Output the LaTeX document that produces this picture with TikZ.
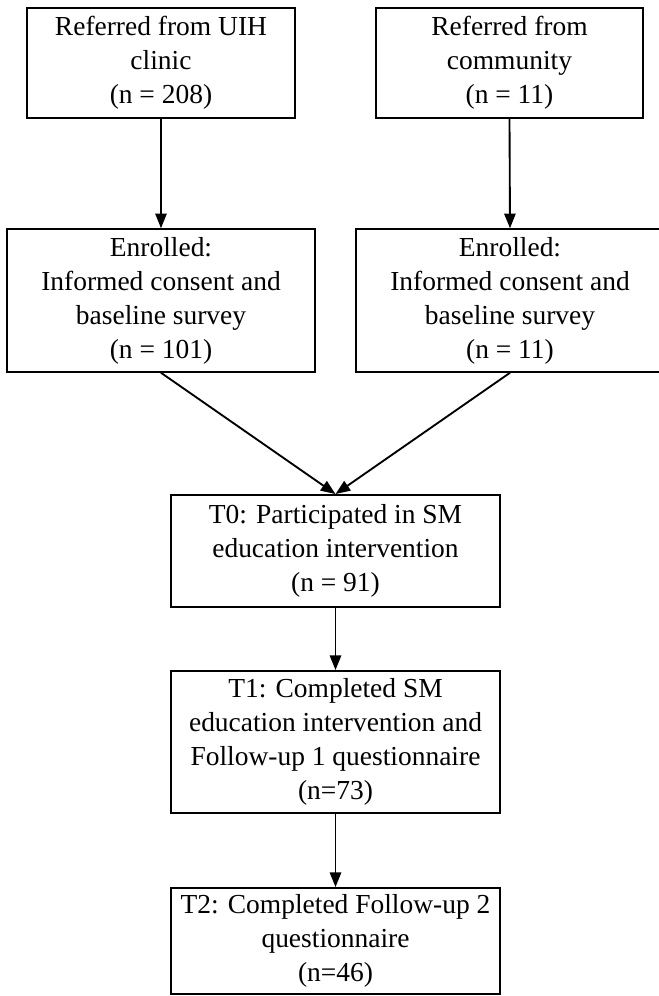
\documentclass[tikz,border=0pt]{standalone}
\usepackage{fontspec}
\setmainfont{Liberation Serif}
\usetikzlibrary{arrows.meta}
\begin{document}
\begin{tikzpicture}[x=0.75pt,y=-0.75pt,
  box/.style={draw,line width=1.4pt,rectangle,inner sep=0pt,align=center,
    font=\fontsize{20.6}{25.5}\selectfont},
  arr/.style={line width=1.4pt,-{Triangle[length=11pt,width=8.5pt]}}]
\useasboundingbox (0,0) rectangle (659,996);
\node[box,minimum width=201pt,minimum height=82.5pt] (b1) at (161,63) {Referred from UIH\\clinic\\(n = 208)};
\node[box,minimum width=200pt,minimum height=82.5pt] (b2) at (509.5,63) {Referred from\\community\\(n = 11)};
\node[box,minimum width=231pt,minimum height=107pt] (b3) at (161,300.5) {Enrolled:\\Informed consent and\\baseline survey\\(n = 101)};
\node[box,minimum width=231pt,minimum height=107pt] (b4) at (510,300.5) {Enrolled:\\Informed consent and\\baseline survey\\(n = 11)};
\node[box,minimum width=247pt,minimum height=84pt] (b5) at (335.5,551) {T0: Participated in SM\\education intervention\\(n = 91)};
\node[box,minimum width=247pt,minimum height=106.5pt] (b6) at (335.5,742) {T1: Completed SM\\education intervention and\\Follow-up 1 questionnaire\\(n=73)};
\node[box,minimum width=247pt,minimum height=79.5pt] (b7) at (335.5,941) {T2: Completed Follow-up 2\\questionnaire\\(n=46)};
\draw[arr] (b1.south) -- (b3.north);
\draw[arr] (b2.south) -- (b4.north);
\draw[arr] (b3.south) -- (b5.north);
\draw[arr] (b4.south) -- (b5.north);
\draw[arr] (b5.south) -- (b6.north);
\draw[arr] (b6.south) -- (b7.north);
\end{tikzpicture}
\end{document}
